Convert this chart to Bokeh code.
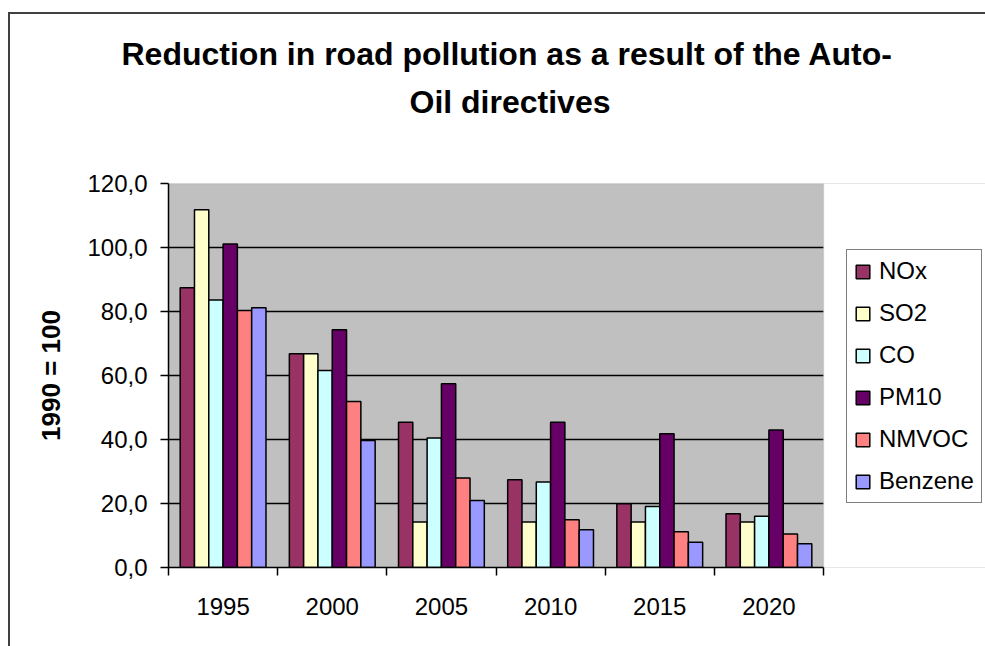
from bokeh.plotting import figure
from bokeh.models import (ColumnDataSource, Range1d, FixedTicker, Legend, LegendItem, Title,
                          BoxAnnotation)
from bokeh.transform import dodge
from bokeh.embed import file_html
from bokeh.resources import INLINE

# ---- data ----
years = ["1995", "2000", "2005", "2010", "2015", "2020"]
series_names = ["NOx", "SO2", "CO", "PM10", "NMVOC", "Benzene"]
nox = [87.4, 66.8, 45.4, 27.4, 19.9, 16.8]
so2 = [111.8, 66.8, 14.2, 14.2, 14.2, 14.2]
co = [83.6, 61.6, 40.5, 26.7, 19.1, 16.0]
pm10 = [101.1, 74.3, 57.4, 45.4, 41.8, 43.0]
nmvoc = [80.3, 51.9, 28.0, 14.9, 11.2, 10.5]
benzene = [81.2, 39.7, 20.9, 11.8, 7.9, 7.4]
y_ticks = [0, 20, 40, 60, 80, 100, 120]
y_tick_labels = ["0,0", "20,0", "40,0", "60,0", "80,0", "100,0", "120,0"]
colors = ["#993366", "#FFFFCC", "#CCFFFF", "#660066", "#FF8080", "#9999FF"]
title_lines = ["Reduction in road pollution as a result of the Auto-", "Oil directives"]

FONT = "Liberation Sans"
n = len(years)
ymax = y_ticks[-1]
LW = 1.5

centers = [i + 0.5 for i in range(n)]
source = ColumnDataSource(dict(x=centers, NOx=nox, SO2=so2, CO=co, PM10=pm10,
                               NMVOC=nmvoc, Benzene=benzene))

# layout geometry (pixels)
W, H = 975, 632
LEFT, TOP, BOTTOM = 158, 169, 79
PLOT_W = 655                      # width of the grey plot area
FRAME_W = W - LEFT                # frame runs to the right edge (legend lives there)

p = figure(width=W, height=H, output_backend="svg", toolbar_location=None,
           x_range=Range1d(0, n * FRAME_W / PLOT_W), y_range=Range1d(0, ymax),
           min_border_left=LEFT, min_border_right=0,
           min_border_top=TOP, min_border_bottom=BOTTOM)
p.margin = (14, 0, 0, 10)
p.styles = {"box-shadow": "-2px 0px 0px 0px #404040, 0px -2px 0px 0px #404040, "
                          "-2px -2px 0px 0px #404040"}
p.background_fill_color = "#C0C0C0"
p.border_fill_color = "white"
p.outline_line_color = None

# white area right of the plot area (legend zone)
p.add_layout(BoxAnnotation(left=n, fill_color="white", fill_alpha=1.0,
                           line_alpha=0, level="glyph"))
# grey border of the plot area
p.add_layout(BoxAnnotation(left=0, right=n, bottom=0, top=ymax, fill_alpha=0,
                           line_color="#A0A0A0", line_width=LW, level="glyph"))

bw = 0.131
items = []
for k, name in enumerate(series_names):
    r = p.vbar(x=dodge("x", (k - 2.5) * bw, range=p.x_range), top=name, width=bw,
               source=source, fill_color=colors[k], line_color="black", line_width=LW)
    items.append(LegendItem(label=name, renderers=[r]))

# y axis
ya = p.yaxis[0]
ya.ticker = FixedTicker(ticks=y_ticks)
ya.major_label_overrides = {t: l for t, l in zip(y_ticks, y_tick_labels)}
ya.major_tick_out = 8
ya.major_tick_in = 0
ya.minor_tick_line_color = None
ya.major_label_standoff = 13
ya.major_label_text_font = FONT
ya.major_label_text_font_size = "24px"
ya.major_label_text_color = "black"
ya.axis_line_color = "black"
ya.axis_line_width = LW
ya.major_tick_line_color = "black"
ya.major_tick_line_width = LW
ya.axis_label = "1990 = 100"
ya.axis_label_text_font = FONT
ya.axis_label_text_font_style = "bold"
ya.axis_label_text_font_size = "26px"
ya.axis_label_text_color = "black"
ya.axis_label_standoff = 18

# x axis: labels at category centres, ticks at category boundaries
xa = p.xaxis[0]
xa.bounds = (0, n)
xa.ticker = FixedTicker(ticks=centers, minor_ticks=list(range(n + 1)))
xa.major_label_overrides = {c: y for c, y in zip(centers, years)}
xa.major_tick_line_color = None
xa.major_tick_out = 0
xa.major_tick_in = 0
xa.minor_tick_line_color = "black"
xa.minor_tick_line_width = LW
xa.minor_tick_out = 8
xa.minor_tick_in = 0
xa.major_label_standoff = 22
xa.major_label_text_font = FONT
xa.major_label_text_font_size = "24px"
xa.major_label_text_color = "black"
xa.axis_line_color = "black"
xa.axis_line_width = LW

p.xgrid.grid_line_color = None
p.ygrid.ticker = FixedTicker(ticks=y_ticks[1:-1])
p.ygrid.grid_line_color = "black"
p.ygrid.grid_line_width = LW

# title: spacer (closest to frame), then line 2, then line 1
title_kw = dict(text_font=FONT, text_font_style="bold", text_font_size="32px",
                text_color="black", align="left")
p.add_layout(Title(text=" ", standoff=21, **title_kw), "above")
p.add_layout(Title(text=title_lines[1], standoff=10, offset=241, **title_kw), "above")
p.add_layout(Title(text=title_lines[0], standoff=10, offset=-47, **title_kw), "above")

legend = Legend(items=items, location=(678, 64),
                label_text_font=FONT, label_text_font_size="24px",
                label_text_color="black", label_height=28, label_standoff=8,
                glyph_width=17, glyph_height=17, spacing=14, padding=7, margin=0,
                border_line_color="black", border_line_width=LW,
                background_fill_color="white", background_fill_alpha=1.0)
p.add_layout(legend, "center")

open("out.html", "w").write(file_html(p, INLINE))
